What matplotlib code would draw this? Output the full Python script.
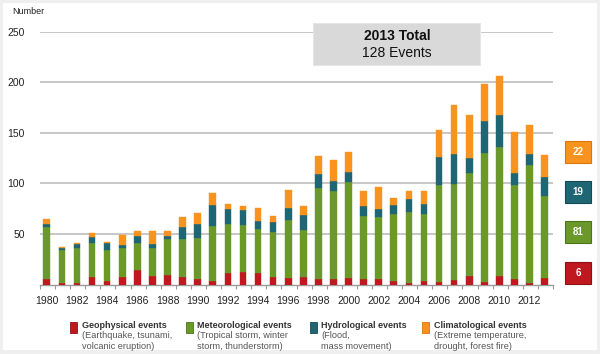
import matplotlib
matplotlib.use("Agg")
import matplotlib.pyplot as plt
from matplotlib.patches import Rectangle
import numpy as np

plt.rcParams['font.family'] = ['Liberation Sans', 'DejaVu Sans']

years = list(range(1980, 2014))
geophysical = [5, 1, 1, 7, 3, 7, 14, 8, 9, 7, 5, 3, 11, 12, 11, 7, 6, 7, 5, 5,
               6, 5, 5, 3, 1, 3, 2, 4, 8, 2, 8, 5, 1, 6]
meteorological = [52, 33, 35, 34, 31, 29, 27, 28, 36, 38, 41, 55, 49, 47, 44, 45, 58, 47,
                  90, 87, 95, 63, 62, 67, 71, 67, 96, 95, 102, 128, 128, 93, 117, 81]
hydrological = [3, 2, 4, 6, 7, 3, 7, 4, 3, 12, 14, 21, 15, 15, 8, 10, 12, 15, 14, 10,
                10, 10, 8, 9, 12, 10, 28, 30, 15, 32, 31, 12, 11, 19]
climatological = [5, 1, 1, 4, 1, 10, 5, 13, 5, 10, 11, 11, 5, 4, 13, 6, 17, 9, 18, 21,
                  20, 14, 21, 6, 8, 12, 27, 48, 42, 36, 39, 41, 29, 22]

series_names = ["Geophysical events", "Meteorological events",
                "Hydrological events", "Climatological events"]
series_notes = ["(Earthquake, tsunami,\nvolcanic eruption)",
                "(Tropical storm, winter\nstorm, thunderstorm)",
                "(Flood,\nmass movement)",
                "(Extreme temperature,\ndrought, forest fire)"]
colors = ["#c0181f", "#6a992a", "#1f6675", "#f7931e"]
edge_colors = ["#8e1016", "#4d7419", "#144a55", "#d9770a"]

x_tick_labels = [str(y) for y in range(1980, 2013, 2)]
y_ticks = [50, 100, 150, 200, 250]

W, H = 600, 354
fig = plt.figure(figsize=(W / 100, H / 100), dpi=100, facecolor="#efefef")


def fx(x):
    return x / W


def fy(y):
    return 1 - y / H


# white panel
fig.patches.append(Rectangle((fx(3), fy(350)), fx(597) - fx(3), fy(3) - fy(350),
                             transform=fig.transFigure, facecolor="white",
                             edgecolor="none", zorder=-10))

ax = fig.add_axes([fx(40), fy(284.5), fx(553) - fx(40), fy(31.5) - fy(284.5)])
ax.set_facecolor("none")
ax.set_zorder(1)

data = [geophysical, meteorological, hydrological, climatological]
bottom = np.zeros(len(years))
for vals, c in zip(data, colors):
    ax.bar(years, vals, width=0.44, bottom=bottom, color=c, zorder=3,
           edgecolor=c, linewidth=0.3)
    bottom += np.array(vals)

ax.set_xlim(1979.6, 2013.46)
ax.set_ylim(0, 250)
ax.set_yticks(y_ticks)
ax.set_yticklabels([str(v) for v in y_ticks])
for v in y_ticks:
    ax.axhline(v, color="#bdbdbd", linewidth=1.2, zorder=1)

for s in ["top", "right", "left"]:
    ax.spines[s].set_visible(False)
ax.spines["bottom"].set_color("#9a9a9a")
ax.spines["bottom"].set_linewidth(1.0)

ax.set_xticks(list(range(1980, 2013, 2)))
ax.set_xticklabels(x_tick_labels)
ax.set_xticks([y - 0.45 for y in years] + [2013.55], minor=True)
ax.tick_params(axis="x", which="major", length=0, pad=8, labelsize=7.5,
               labelcolor="#222222")
ax.tick_params(axis="x", which="minor", length=3, width=0.8, color="#9a9a9a")
ax.tick_params(axis="y", length=0, pad=11, labelsize=7.5, labelcolor="#222222")

fig.text(fx(12), fy(12), "Number", fontsize=6.5, color="#222222",
         ha="left", va="center")

# 2013 total box
fig.patches.append(Rectangle((fx(313), fy(65)), fx(480) - fx(313), fy(23) - fy(65),
                             transform=fig.transFigure, facecolor="#d9d9d9",
                             edgecolor="#e6e6e6", linewidth=0.8, zorder=5))
total_2013 = sum(d[-1] for d in data)
fig.text(fx(397), fy(36), f"{years[-1]} Total", fontsize=10, fontweight="bold",
         color="#111111", ha="center", va="center", zorder=6)
fig.text(fx(397), fy(53), f"{total_2013} Events", fontsize=10,
         color="#111111", ha="center", va="center", zorder=6)

# right-hand value boxes
box_centers = [273, 232, 192, 152]
for d, c, ec, yc in zip(data, colors, edge_colors, box_centers):
    fig.patches.append(Rectangle((fx(565), fy(yc + 11)), fx(591) - fx(565), 22 / H,
                                 transform=fig.transFigure, facecolor=c,
                                 edgecolor=ec, linewidth=0.8, zorder=5))
    fig.text(fx(578), fy(yc), str(d[-1]), fontsize=7, fontweight="bold",
             color="white", ha="center", va="center", zorder=6)

# legend
leg_sq_x = [70, 186, 310, 422]
leg_txt_x = [82, 197, 321, 434]
for name, note, c, ec, sx, tx in zip(series_names, series_notes, colors,
                                     edge_colors, leg_sq_x, leg_txt_x):
    fig.patches.append(Rectangle((fx(sx), fy(333)), 7 / W, 11 / H,
                                 transform=fig.transFigure, facecolor=c,
                                 edgecolor=ec, linewidth=0.6, zorder=5))
    fig.text(fx(tx), fy(325), name, fontsize=6.5, fontweight="bold",
             color="#333333", ha="left", va="center")
    fig.text(fx(tx), fy(331), note, fontsize=6.6, color="#555555",
             ha="left", va="top", linespacing=1.25)

fig.savefig("out.png", dpi=100, facecolor=fig.get_facecolor())
